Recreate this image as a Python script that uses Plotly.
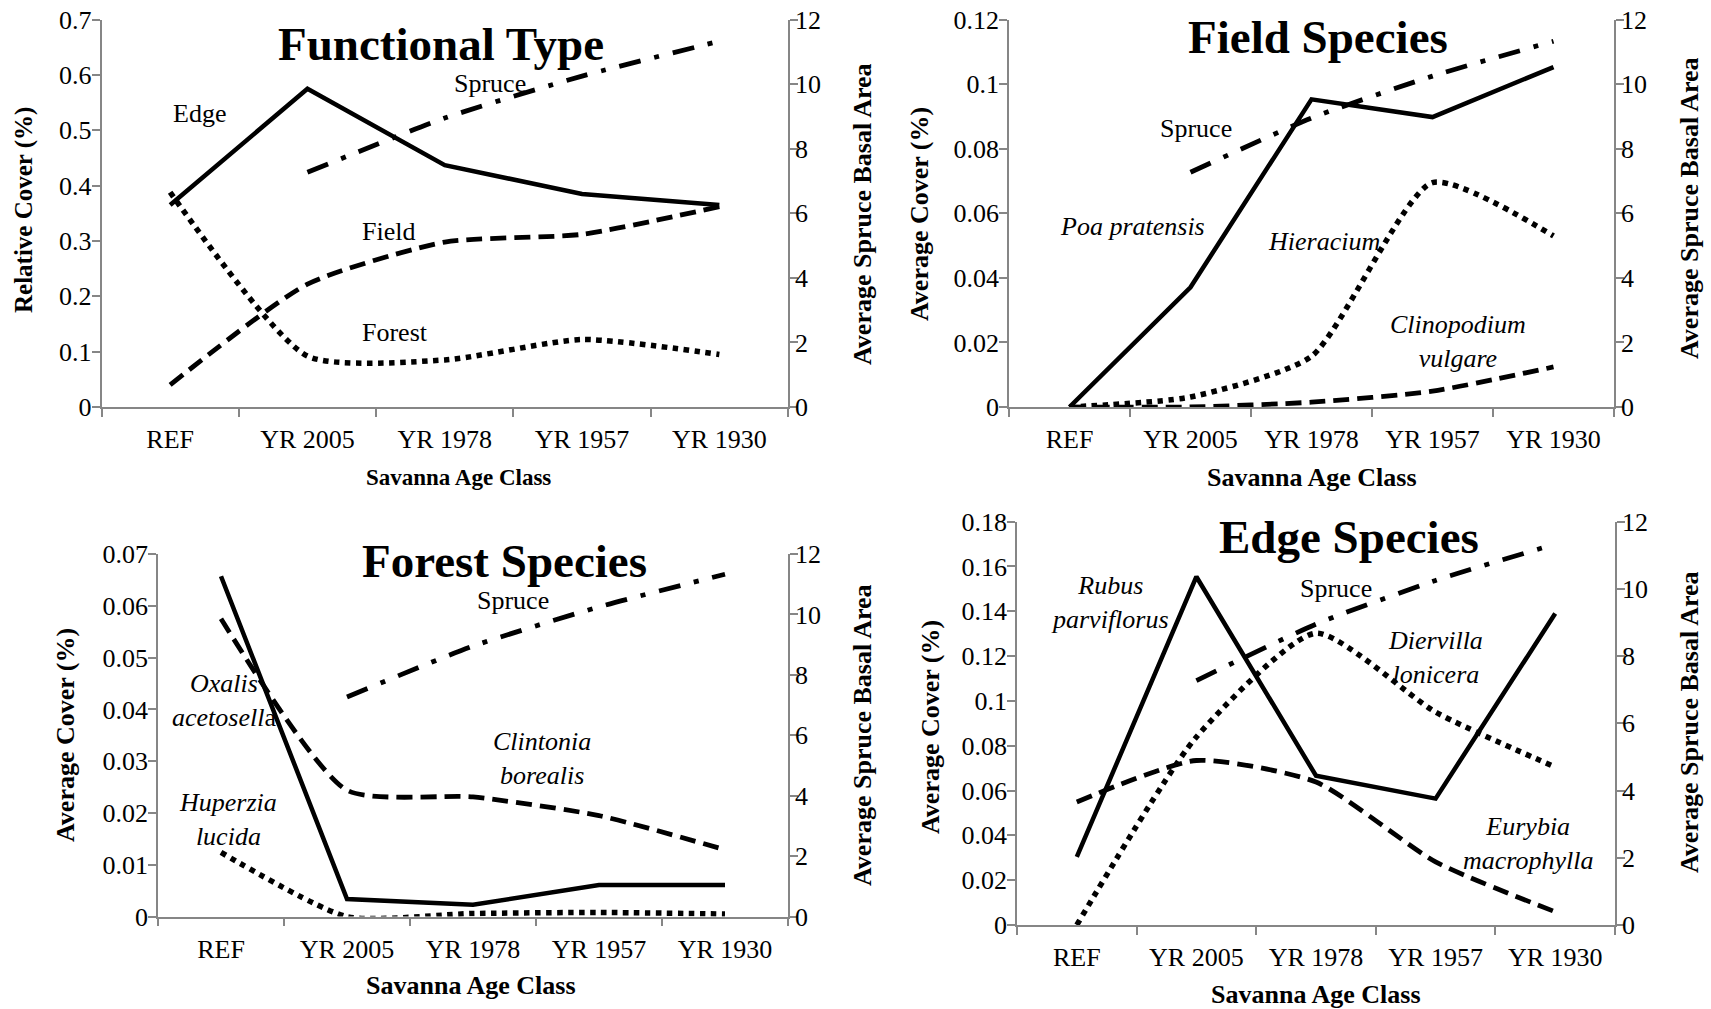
import plotly.graph_objects as go

FIG_W, FIG_H = 1711, 1009

# ---------------- data ----------------
categories = ["REF", "YR 2005", "YR 1978", "YR 1957", "YR 1930"]
spruce_basal_area = [None, 7.27, 8.95, 10.25, 11.33]

# Functional Type (relative cover)
ft_edge = [0.365, 0.575, 0.437, 0.385, 0.365]
ft_field = [0.040, 0.222, 0.298, 0.312, 0.362]
ft_forest = [0.388, 0.092, 0.085, 0.122, 0.095]

# Field species (average cover)
poa_pratensis = [0.0, 0.0371, 0.0953, 0.0898, 0.1053]
hieracium = [0.0, 0.0031, 0.0157, 0.0695, 0.0530]
clinopodium_vulgare = [0.0, 0.0, 0.0015, 0.0049, 0.0124]

# Forest species (average cover)
oxalis_acetosella = [0.0657, 0.0034, 0.0023, 0.0061, 0.0061]
clintonia_borealis = [0.0575, 0.0244, 0.0231, 0.0195, 0.0129]
huperzia_lucida = [0.0124, 0.0, 0.0006, 0.0008, 0.0005]

# Edge species (average cover)
rubus_parviflorus = [0.0304, 0.1554, 0.0666, 0.0564, 0.1390]
diervilla_lonicera = [0.0, 0.0839, 0.1302, 0.0950, 0.0705]
eurybia_macrophylla = [0.0549, 0.0734, 0.0638, 0.0282, 0.0059]

# tick labels
ft_ticks = [0, 0.1, 0.2, 0.3, 0.4, 0.5, 0.6, 0.7]
ft_ticktext = ["0", "0.1", "0.2", "0.3", "0.4", "0.5", "0.6", "0.7"]
field_ticks = [0, 0.02, 0.04, 0.06, 0.08, 0.1, 0.12]
field_ticktext = ["0", "0.02", "0.04", "0.06", "0.08", "0.1", "0.12"]
forest_ticks = [0, 0.01, 0.02, 0.03, 0.04, 0.05, 0.06, 0.07]
forest_ticktext = ["0", "0.01", "0.02", "0.03", "0.04", "0.05", "0.06", "0.07"]
edge_ticks = [0, 0.02, 0.04, 0.06, 0.08, 0.1, 0.12, 0.14, 0.16, 0.18]
edge_ticktext = ["0", "0.02", "0.04", "0.06", "0.08", "0.1", "0.12", "0.14", "0.16", "0.18"]
spruce_ticks = [0, 2, 4, 6, 8, 10, 12]
spruce_ticktext = ["0", "2", "4", "6", "8", "10", "12"]

# ---------------- styles ----------------
FONT = "Liberation Serif, Times New Roman, serif"
AXIS_GRAY = "#868686"
SMOOTH = 0.6
SOLID = dict(color="black", width=4.5, dash="solid")
DASH = dict(color="black", width=4.8, dash="16px,8px")
DOT = dict(color="black", width=5.5, dash="5.5px,5.5px")
DASHDOT = dict(color="black", width=4.8, dash="22px,14px,5px,14px")


def fx(px):
    return px / FIG_W


def fy(py):
    return 1 - py / FIG_H


# panel boxes in pixels: left, right, top, bottom
panels = [
    dict(l=101.5, r=788, t=19.6, b=407, yr=0.7, tv=ft_ticks, tt=ft_ticktext),
    dict(l=1009, r=1614, t=19.6, b=407, yr=0.12, tv=field_ticks, tt=field_ticktext),
    dict(l=158, r=788, t=554, b=916.6, yr=0.07, tv=forest_ticks, tt=forest_ticktext),
    dict(l=1017, r=1615, t=521.6, b=925, yr=0.18, tv=edge_ticks, tt=edge_ticktext),
]

series = [
    [(ft_edge, SOLID, "linear", "Edge"), (ft_field, DASH, "spline", "Field"),
     (ft_forest, DOT, "spline", "Forest")],
    [(poa_pratensis, SOLID, "linear", "Poa pratensis"), (hieracium, DOT, "spline", "Hieracium"),
     (clinopodium_vulgare, DASH, "spline", "Clinopodium vulgare")],
    [(oxalis_acetosella, SOLID, "linear", "Oxalis acetosella"),
     (clintonia_borealis, DASH, "spline", "Clintonia borealis"),
     (huperzia_lucida, DOT, "spline", "Huperzia lucida")],
    [(rubus_parviflorus, SOLID, "linear", "Rubus parviflorus"),
     (diervilla_lonicera, DOT, "spline", "Diervilla lonicera"),
     (eurybia_macrophylla, DASH, "spline", "Eurybia macrophylla")],
]

fig = go.Figure()
layout = dict(
    width=FIG_W, height=FIG_H,
    margin=dict(l=0, r=0, t=0, b=0, autoexpand=False),
    paper_bgcolor="white", plot_bgcolor="white",
    showlegend=False,
    font=dict(family=FONT, size=26, color="black"),
)

for i, p in enumerate(panels):
    n = i + 1
    xa = "x" if n == 1 else f"x{n}"
    ya = "y" if n == 1 else f"y{n}"
    ya2 = f"y{n + 4}"
    for vals, style, shape, name in series[i]:
        fig.add_trace(go.Scatter(x=categories, y=vals, mode="lines", name=name,
                                 line=dict(**style, shape=shape, smoothing=SMOOTH),
                                 xaxis=xa, yaxis=ya, connectgaps=False, cliponaxis=False))
    fig.add_trace(go.Scatter(x=categories, y=spruce_basal_area, mode="lines", name="Spruce",
                             line=dict(**DASHDOT, shape="spline", smoothing=SMOOTH),
                             xaxis=xa, yaxis=ya2, connectgaps=False))

    xkey = "xaxis" if n == 1 else f"xaxis{n}"
    ykey = "yaxis" if n == 1 else f"yaxis{n}"
    y2key = f"yaxis{n + 4}"
    layout[xkey] = dict(
        domain=[fx(p["l"]), fx(p["r"])], anchor=ya, type="category",
        categoryorder="array", categoryarray=categories,
        range=[-0.5, len(categories) - 0.5], automargin=False,
        showline=True, linecolor=AXIS_GRAY, linewidth=1.5,
        ticks="outside", tickson="boundaries", ticklen=8, tickwidth=1.5, tickcolor=AXIS_GRAY,
        ticklabelstandoff=8,
        showgrid=False, zeroline=False, fixedrange=True,
        tickfont=dict(family=FONT, size=26, color="black"),
    )
    layout[ykey] = dict(
        domain=[fy(p["b"]), fy(p["t"])], anchor=xa, range=[0, p["yr"]], automargin=False,
        tickmode="array", tickvals=p["tv"], ticktext=p["tt"],
        showline=True, linecolor=AXIS_GRAY, linewidth=1.5,
        ticks="outside", ticklen=8, tickwidth=1.5, tickcolor=AXIS_GRAY,
        ticklabelstandoff=-5,
        showgrid=False, zeroline=False,
        tickfont=dict(family=FONT, size=26, color="black"),
    )
    layout[y2key] = dict(
        overlaying=ya, anchor=xa, side="right", range=[0, 12], automargin=False,
        tickmode="array", tickvals=spruce_ticks, ticktext=spruce_ticktext,
        showline=True, linecolor=AXIS_GRAY, linewidth=1.5,
        ticks="outside", ticklen=8, tickwidth=1.5, tickcolor=AXIS_GRAY,
        ticklabelstandoff=-8,
        showgrid=False, zeroline=False,
        tickfont=dict(family=FONT, size=26, color="black"),
    )

# ---------------- annotations (text labels) ----------------
# (text, x px, y px, size, angle)
labels = [
    # panel titles
    ("<b>Functional Type</b>", 441, 44, 47, 0),
    ("<b>Field Species</b>", 1318, 37, 47, 0),
    ("<b>Forest Species</b>", 505, 561, 47, 0),
    ("<b>Edge Species</b>", 1349, 537, 47, 0),
    # x axis titles
    ("<b>Savanna Age Class</b>", 458, 477, 23, 0),
    ("<b>Savanna Age Class</b>", 1312, 477, 26, 0),
    ("<b>Savanna Age Class</b>", 471, 985, 26, 0),
    ("<b>Savanna Age Class</b>", 1316, 994, 26, 0),
    # left y titles
    ("<b>Relative Cover (%)</b>", 24, 210, 25, -90),
    ("<b>Average Cover (%)</b>", 919, 214, 26, -90),
    ("<b>Average Cover (%)</b>", 65, 735, 26, -90),
    ("<b>Average Cover (%)</b>", 930, 727, 26, -90),
    # right y titles
    ("<b>Average Spruce Basal Area</b>", 862, 214, 26, -90),
    ("<b>Average Spruce Basal Area</b>", 1689, 208, 26, -90),
    ("<b>Average Spruce Basal Area</b>", 862, 735, 26, -90),
    ("<b>Average Spruce Basal Area</b>", 1689, 722, 26, -90),
    # series labels, panel 1
    ("Edge", 199, 113, 26, 0),
    ("Spruce", 490, 83, 26, 0),
    ("Field", 388, 231, 26, 0),
    ("Forest", 395, 333, 26, 0),
    # panel 2
    ("Spruce", 1196, 128, 26, 0),
    ("<i>Poa pratensis</i>", 1132, 226, 26, 0),
    ("<i>Hieracium</i>", 1324, 241, 26, 0),
    ("<i>Clinopodium</i><br><i>vulgare</i>", 1458, 341, 26, 0),
    # panel 3
    ("Spruce", 513, 600, 26, 0),
    ("<i>Oxalis</i><br><i>acetosell</i>a", 224, 700, 26, 0),
    ("<i>Clintonia</i><br><i>borealis</i>", 542, 758, 26, 0),
    ("<i>Huperzia</i><br><i>lucida</i>", 228, 819, 26, 0),
    # panel 4
    ("Spruce", 1336, 588, 26, 0),
    ("<i>Rubus</i><br><i>parviflorus</i>", 1110, 602, 26, 0),
    ("<i>Diervilla</i><br><i>lonicera</i>", 1435, 657, 26, 0),
    ("<i>Eurybia</i><br><i>macrophylla</i>", 1528, 843, 26, 0),
]

annotations = []
for text, x, y, size, angle in labels:
    annotations.append(dict(
        text=text, x=fx(x), y=fy(y), xref="paper", yref="paper",
        xanchor="center", yanchor="middle", showarrow=False, textangle=angle,
        font=dict(family=FONT, size=size, color="black"), align="center",
    ))
layout["annotations"] = annotations

fig.update_layout(**layout)
fig.write_html("out.html")
